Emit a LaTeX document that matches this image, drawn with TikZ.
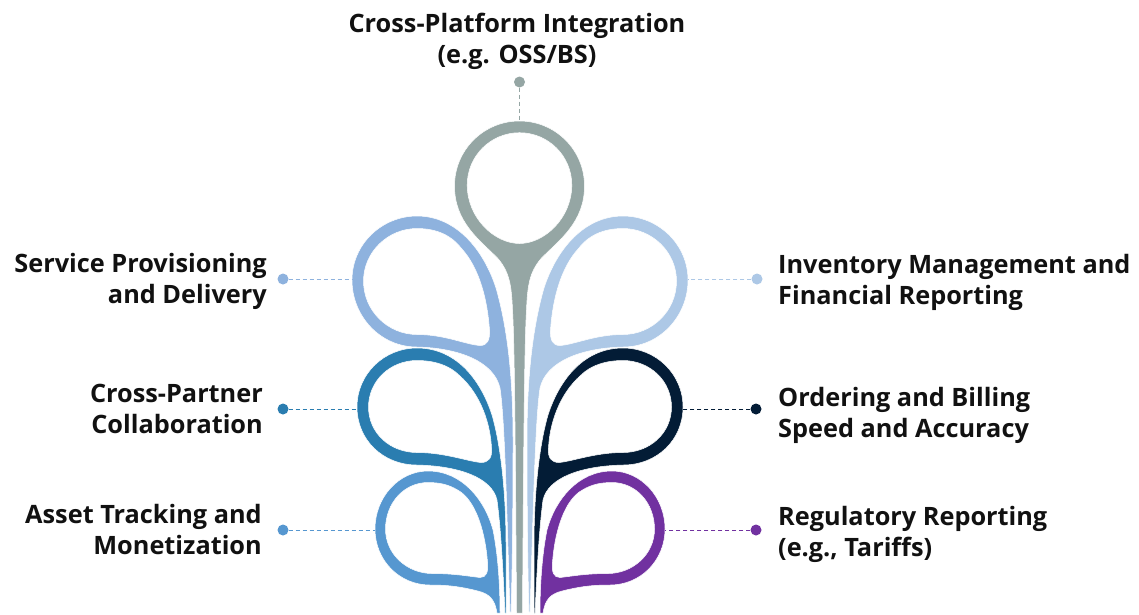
\documentclass[tikz,border=0pt]{standalone}
\usepackage{fontspec}
\setmainfont{Open Sans}
\definecolor{cgray}{HTML}{95A6A4}
\definecolor{cserv}{HTML}{8EB2DE}
\definecolor{cinv}{HTML}{ADC8E6}
\definecolor{cpart}{HTML}{2A7DB0}
\definecolor{cord}{HTML}{031C36}
\definecolor{casset}{HTML}{5697D0}
\definecolor{creg}{HTML}{7131A0}
\definecolor{ctxt}{HTML}{111111}
\begin{document}
\begin{tikzpicture}[x=1pt,y=-1pt,
  lbl/.style={font=\fontsize{25.3}{31}\selectfont\bfseries, text=ctxt, inner sep=0pt},
  ldot/.style={circle, fill=#1, minimum size=11pt, inner sep=0pt},
  lconn/.style={draw=#1, line width=1pt, dash pattern=on 4pt off 3pt},
  leafshape/.style={fill=#1, draw=white, line width=0.5pt, even odd rule},
  grayleaf/.style={insert path={
    (-3,613) .. controls (-4,450) and (-5,340) .. (-7,310)
    .. controls (-8,285) and (-10,272) .. (-22,258)
    .. controls (-40,240) and (-65,222) .. (-65,186)
    .. controls (-65,150) and (-36,121) .. (0,121)
    .. controls (36,121) and (65,150) .. (65,186)
    .. controls (65,222) and (40,240) .. (22,258)
    .. controls (10,272) and (8,285) .. (7,310)
    .. controls (5,340) and (4,450) .. (3,613) -- cycle
    (0,132.7) .. controls (28.9,132.7) and (52.3,156.1) .. (52.3,185)
    .. controls (52.3,218) and (25,243.5) .. (0,243.5)
    .. controls (-25,243.5) and (-52.3,218) .. (-52.3,185)
    .. controls (-52.3,156.1) and (-28.9,132.7) .. (0,132.7) -- cycle}},
  servleaf/.style={insert path={
    (510,612) .. controls (507,520) and (505,420) .. (500,388)
    .. controls (494,362) and (460,348) .. (417,347)
    .. controls (380,347) and (352,316) .. (352,280)
    .. controls (352,244) and (382,216) .. (417,216)
    .. controls (455,216) and (483,248) .. (496,288)
    .. controls (508,330) and (513,380) .. (513,440)
    .. controls (513,520) and (512,580) .. (511,612) -- cycle
    (417,228.5) .. controls (388,228.5) and (363.5,252) .. (363.5,281)
    .. controls (363.5,311) and (388,334.5) .. (417,334.5)
    .. controls (445,334.5) and (465,344.5) .. (480,345.5)
    .. controls (487.5,345.5) and (490,340) .. (489.5,330)
    .. controls (487.5,300) and (479.5,268) .. (461.5,248.5)
    .. controls (451.5,235.5) and (437,228.5) .. (417,228.5) -- cycle}},
  partleaf/.style={insert path={
    (505,613) .. controls (503,570) and (501,530) .. (497,500)
    .. controls (492,478) and (460,466) .. (417,465)
    .. controls (383,465) and (357,440) .. (357,407)
    .. controls (357,374) and (384,348) .. (417,348)
    .. controls (455,348) and (480,378) .. (492,415)
    .. controls (502,450) and (506,500) .. (506,545)
    -- (506,613) -- cycle
    (417,360.5) .. controls (390,360.5) and (368.5,381) .. (368.5,407)
    .. controls (368.5,433) and (390,452.5) .. (417,452.5)
    .. controls (445,452.5) and (468,461.5) .. (481,462.5)
    .. controls (488.5,462.5) and (492.5,458) .. (491.5,448)
    .. controls (490.5,425) and (481.5,395) .. (459.5,375.5)
    .. controls (449.5,365.5) and (435,360.5) .. (417,360.5) -- cycle}},
  assetleaf/.style={insert path={
    (497,613) .. controls (495,600) and (490,594) .. (478,591)
    .. controls (462,587) and (450,585) .. (430,585)
    .. controls (399,585) and (375,560) .. (375,529)
    .. controls (375,497) and (399,471) .. (428,471)
    .. controls (462,471) and (485,500) .. (493,530)
    .. controls (498,555) and (500,585) .. (500,613) -- cycle
    (428,482.5) .. controls (404,482.5) and (385.5,503) .. (385.5,529)
    .. controls (385.5,555) and (408,573.5) .. (432,573.5)
    .. controls (455,573.5) and (470,576.5) .. (480,577.5)
    .. controls (486.5,577.5) and (488.5,572) .. (487.5,562)
    .. controls (485.5,535) and (477.5,505) .. (461.5,492.5)
    .. controls (451.5,485.5) and (442,482.5) .. (428,482.5) -- cycle}}
]
\useasboundingbox (0,0) rectangle (1139,614);
\fill[white] (0,0) rectangle (1139,614);

% leaves, left side and centre
\begin{scope}[xshift=519.5pt]
  \fill[leafshape=cgray, grayleaf];
  \coordinate (grayT) at (0,121);
\end{scope}
\fill[leafshape=cserv, servleaf];
\coordinate (servL) at (352,279);
% right side (mirrored)
\begin{scope}[xshift=1040pt, xscale=-1]
  \fill[leafshape=cinv, servleaf];
  \coordinate (invR) at (352,279);
\end{scope}
\fill[leafshape=cpart, partleaf];
\coordinate (partL) at (357,409);
\begin{scope}[xshift=1040pt, xscale=-1]
  \fill[leafshape=cord, partleaf];
  \coordinate (ordR) at (357,409);
\end{scope}
\fill[leafshape=casset, assetleaf];
\coordinate (assetL) at (375,530);
\begin{scope}[xshift=1040pt, xscale=-1]
  \fill[leafshape=creg, assetleaf];
  \coordinate (regR) at (375,530);
\end{scope}

% dots
\node[ldot=cgray] (dTop) at (519.5,82) {};
\node[ldot=cserv] (dServ) at (283,279) {};
\node[ldot=cpart] (dPart) at (283,409) {};
\node[ldot=casset] (dAsset) at (283,530) {};
\node[ldot=cinv] (dInv) at (757,279) {};
\node[ldot=cord] (dOrd) at (756,409) {};
\node[ldot=creg] (dReg) at (756,530) {};

% connectors
\draw[lconn=cgray] (dTop) -- (grayT);
\draw[lconn=cserv] (dServ) -- (servL);
\draw[lconn=cpart] (dPart) -- (partL);
\draw[lconn=casset] (dAsset) -- (assetL);
\draw[lconn=cinv] (dInv) -- (invR);
\draw[lconn=cord] (dOrd) -- (ordR);
\draw[lconn=creg] (dReg) -- (regR);

% labels (base anchor = baseline of the last line)
\node[lbl, anchor=base, align=center] (tTop) at (517,63) {Cross-Platform Integration\\(e.g. OSS/BS)};
\node[lbl, anchor=base east, align=right] (tServ) at (267,303) {Service Provisioning\\and Delivery};
\node[lbl, anchor=base east, align=right] (tPart) at (263,433) {Cross-Partner\\Collaboration};
\node[lbl, anchor=base east, align=right] (tAsset) at (262,554) {Asset Tracking and\\Monetization};
\node[lbl, anchor=base west, align=left] (tInv) at (778,304) {Inventory Management and\\Financial Reporting};
\node[lbl, anchor=base west, align=left] (tOrd) at (778,437) {Ordering and Billing\\Speed and Accuracy};
\node[lbl, anchor=base west, align=left] (tReg) at (778,556) {Regulatory Reporting\\(e.g., Tariffs)};
\end{tikzpicture}
\end{document}
